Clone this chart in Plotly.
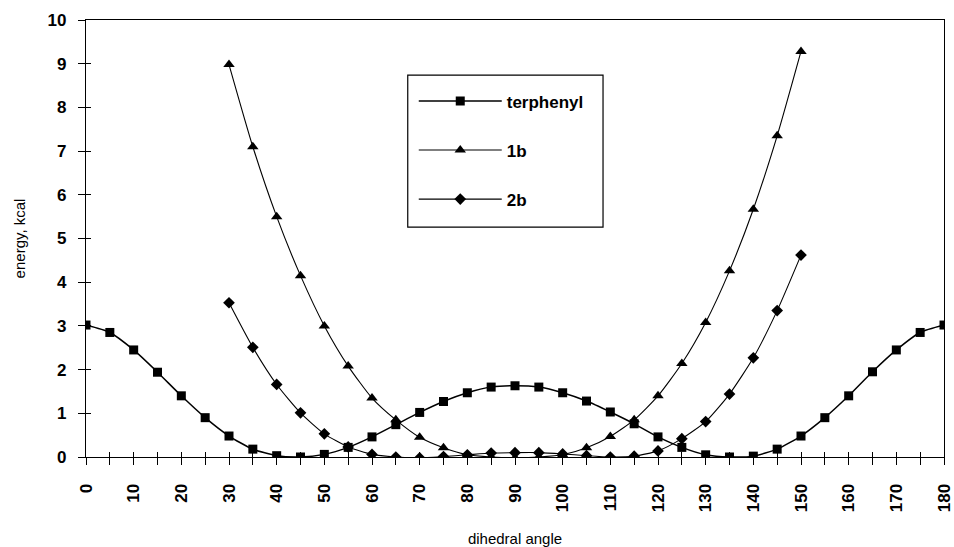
import plotly.graph_objects as go

angles_terphenyl = list(range(0, 181, 5))
terphenyl = [3.02, 2.85, 2.45, 1.94, 1.40, 0.90, 0.48, 0.18, 0.03, 0.00, 0.06, 0.22,
             0.46, 0.74, 1.02, 1.27, 1.47, 1.60, 1.63, 1.60, 1.47, 1.28, 1.03, 0.76,
             0.46, 0.22, 0.05, 0.00, 0.02, 0.18, 0.48, 0.90, 1.40, 1.95, 2.45, 2.85, 3.02]

angles_b = list(range(30, 151, 5))
e_1b = [8.98, 7.10, 5.50, 4.15, 3.00, 2.08, 1.35, 0.85, 0.45, 0.21, 0.05, 0.00, -0.02,
        0.00, 0.05, 0.21, 0.47, 0.85, 1.40, 2.14, 3.08, 4.26, 5.67, 7.35, 9.28]
e_2b = [3.53, 2.51, 1.66, 1.01, 0.53, 0.23, 0.06, 0.00, -0.02, 0.01, 0.05, 0.09, 0.10,
        0.10, 0.07, 0.03, 0.00, 0.02, 0.14, 0.42, 0.81, 1.44, 2.27, 3.35, 4.62]

xticks = list(range(0, 181, 10))
yticks = list(range(0, 11, 1))

FONT = "Liberation Sans"

fig = go.Figure()
fig.add_trace(go.Scatter(x=angles_terphenyl, y=terphenyl, name="terphenyl",
                         mode="lines+markers", line=dict(color="black", width=1.5, shape="spline", smoothing=0.6),
                         marker=dict(symbol="square", size=9, color="black"), legendgroup="a"))
fig.add_trace(go.Scatter(x=angles_b, y=e_1b, name="1b",
                         mode="lines+markers", line=dict(color="black", width=1.1, shape="spline", smoothing=0.6),
                         marker=dict(symbol="triangle-up", size=10, color="black"), legendgroup="b"))
fig.add_trace(go.Scatter(x=angles_b, y=e_2b, name="2b",
                         mode="lines+markers", line=dict(color="black", width=1.1, shape="spline", smoothing=0.6),
                         marker=dict(symbol="diamond", size=9, color="black"), legendgroup="c"))
# helper invisible trace for the inward-tick overlay axes
fig.add_trace(go.Scatter(x=[0], y=[0], xaxis="x2", yaxis="y2", mode="markers",
                         marker=dict(opacity=0), showlegend=False, hoverinfo="skip"))

fig.update_layout(
    width=954, height=547,
    paper_bgcolor="white", plot_bgcolor="white",
    margin=dict(l=86, r=10, t=20, b=90),
    font=dict(family=FONT, color="black"),
    showlegend=True,
    legend=dict(x=0.382, y=0.855, xanchor="left", yanchor="top",
                borderwidth=0, bgcolor="rgba(0,0,0,0)",
                font=dict(size=17, family=FONT, weight="bold"),
                tracegroupgap=24, itemwidth=83),
    shapes=[dict(type="rect", xref="paper", yref="paper", x0=0.375, x1=0.6026, y0=0.526, y1=0.874,
                 line=dict(color="black", width=1.2), fillcolor="white", layer="below")],
    xaxis=dict(range=[0, 180], tickvals=xticks, ticktext=[str(v) for v in xticks],
               tickangle=-90, ticks="outside", ticklen=7, tickcolor="black",
               minor=dict(dtick=5, ticks="outside", ticklen=7, tickcolor="black", showgrid=False),
               showline=True, linecolor="black", linewidth=1.2, mirror=True,
               showgrid=False, zeroline=False, ticklabelstandoff=12,
               automargin=False, ticklabeloverflow="allow",
               tickfont=dict(size=17, family=FONT, weight="bold"),
               title=dict(text="dihedral angle", font=dict(size=15, family=FONT), standoff=22)),
    yaxis=dict(range=[0, 10], tickvals=yticks, ticks="outside", ticklen=7, tickcolor="black",
               showline=True, linecolor="black", linewidth=1.2, mirror=True,
               showgrid=False, zeroline=False, ticklabelstandoff=8,
               automargin=False, ticklabeloverflow="allow",
               tickfont=dict(size=17, family=FONT, weight="bold"),
               title=dict(text="energy, kcal", font=dict(size=15, family=FONT), standoff=18)),
    xaxis2=dict(range=[0, 180], overlaying="x", anchor="y2", side="bottom",
                tickvals=list(range(0, 181, 5)), ticks="inside", ticklen=5, tickcolor="black",
                showticklabels=False, showgrid=False, zeroline=False, showline=False),
    yaxis2=dict(range=[0, 10], overlaying="y", anchor="x2", side="left",
                tickvals=yticks, ticks="inside", ticklen=5, tickcolor="black",
                showticklabels=False, showgrid=False, zeroline=False, showline=False),
)

fig.write_html("out.html")
